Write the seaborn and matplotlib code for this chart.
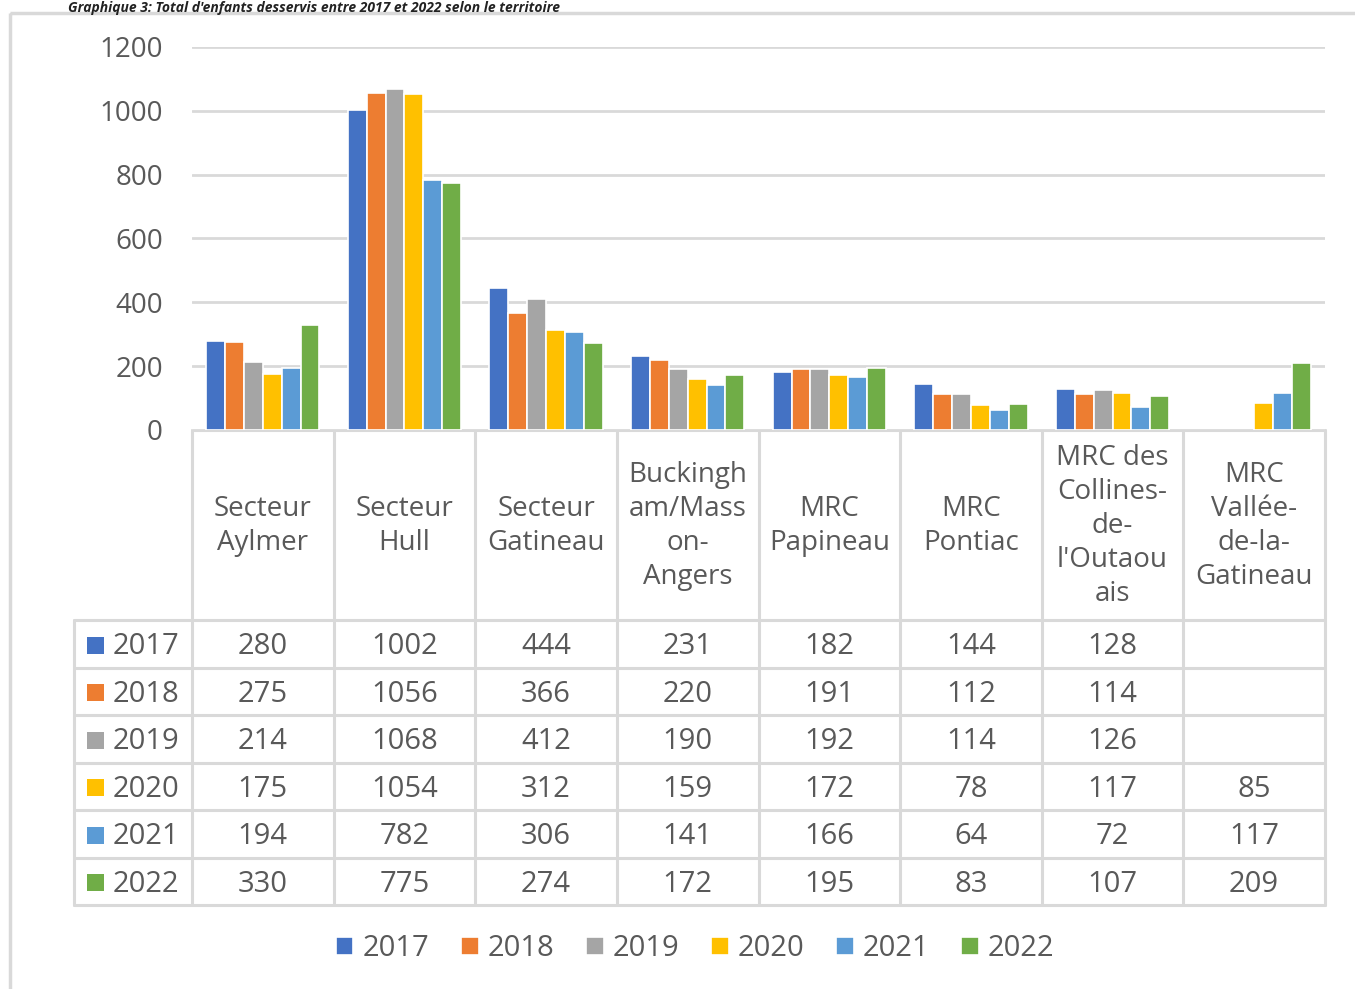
import numpy as np
import pandas as pd
import seaborn as sns
from matplotlib import pyplot as plt
from matplotlib.patches import Rectangle

# Data
territoires = ["Secteur\nAylmer", "Secteur\nHull", "Secteur\nGatineau",
               "Buckingh\nam/Mass\non-\nAngers", "MRC\nPapineau", "MRC\nPontiac",
               "MRC des\nCollines-\nde-\nl'Outaou\nais", "MRC\nVallée-\nde-la-\nGatineau"]
annees = ["2017", "2018", "2019", "2020", "2021", "2022"]
v2017 = [280, 1002, 444, 231, 182, 144, 128, np.nan]
v2018 = [275, 1056, 366, 220, 191, 112, 114, np.nan]
v2019 = [214, 1068, 412, 190, 192, 114, 126, np.nan]
v2020 = [175, 1054, 312, 159, 172, 78, 117, 85]
v2021 = [194, 782, 306, 141, 166, 64, 72, 117]
v2022 = [330, 775, 274, 172, 195, 83, 107, 209]
couleurs = ["#4472C4", "#ED7D31", "#A5A5A5", "#FFC000", "#5B9BD5", "#70AD47"]

series = [v2017, v2018, v2019, v2020, v2021, v2022]
rows = []
for an, vals in zip(annees, series):
    for t, v in zip(territoires, vals):
        rows.append({"territoire": t, "annee": an, "valeur": v})
df = pd.DataFrame(rows)

sns.set_theme(style="white")
plt.rcParams['font.family'] = ['Open Sans', 'DejaVu Sans']
txt_col = "#595959"
grid_col = "#d9d9d9"

W, H = 1355, 989
fig = plt.figure(figsize=(W / 100, H / 100), dpi=100)

# overlay in pixel coordinates for frame and data table
ov = fig.add_axes([0, 0, 1, 1])
ov.set_xlim(0, W)
ov.set_ylim(H, 0)
ov.axis("off")

# title (cut off in the source, kept small and visible here)
fig.text(0.05, 1 - 1 / H, "Graphique 3: Total d'enfants desservis entre 2017 et 2022 selon le territoire",
         fontsize=10, fontstyle="italic", fontweight="bold", color="#222222",
         ha="left", va="top")

# outer frame (clipped right/bottom)
ov.add_patch(Rectangle((10, 13), W + 20, H + 20, fill=False, ec=grid_col, lw=2.5))

x0, x1 = 192, 1325
y_top, y_zero = 47, 430
ax = fig.add_axes([x0 / W, 1 - y_zero / H, (x1 - x0) / W, (y_zero - y_top) / H])
sns.barplot(data=df, x="territoire", y="valeur", hue="annee", hue_order=annees,
            order=territoires, palette=couleurs, width=0.8, saturation=1,
            edgecolor="white", linewidth=1.2, ax=ax, legend=True)
ax.set_ylim(0, 1200)
ax.set_xlim(-0.5, len(territoires) - 0.5)
ax.set_yticks(range(0, 1201, 200))
ax.yaxis.grid(True, color=grid_col, lw=2)
ax.set_axisbelow(True)
ax.set_xticks([])
ax.set_xlabel("")
ax.set_ylabel("")
ax.tick_params(axis="y", length=0, pad=21, labelsize=20, labelcolor=txt_col)
for s in ax.spines.values():
    s.set_visible(False)
handles, labels = ax.get_legend_handles_labels()
ax.get_legend().remove()

# data table
ncol = len(territoires)
cw = (x1 - x0) / ncol
y_cat = 620
row_h = (905 - y_cat) / len(annees)
lab_x0 = 74
lw_t = 2.2
ov.plot([x0, x1], [y_zero, y_zero], color=grid_col, lw=lw_t)
for i in range(ncol + 1):
    ov.plot([x0 + i * cw] * 2, [y_zero, 905], color=grid_col, lw=lw_t)
ov.plot([lab_x0] * 2, [y_cat, 905], color=grid_col, lw=lw_t)
for j in range(len(annees) + 1):
    ov.plot([lab_x0, x1], [y_cat + j * row_h] * 2, color=grid_col, lw=lw_t)

for i, t in enumerate(territoires):
    ov.text(x0 + (i + 0.5) * cw, 526, t, ha="center", va="center",
            fontsize=20, color=txt_col, linespacing=1.28)

for j, (an, vals) in enumerate(zip(annees, series)):
    yc = y_cat + (j + 0.5) * row_h + 3
    ov.add_patch(Rectangle((87, yc - 10), 17, 17, color=couleurs[j], lw=0))
    ov.text(113, yc, an, ha="left", va="center", fontsize=21, color=txt_col)
    for i, v in enumerate(vals):
        if not np.isnan(v):
            ov.text(x0 + (i + 0.5) * cw, yc, f"{int(v)}", ha="center", va="center",
                    fontsize=21, color=txt_col)

fig.legend(handles, labels, loc="center", bbox_to_anchor=(695 / W, 1 - 949 / H),
           ncol=6, frameon=False, fontsize=21, labelcolor=txt_col,
           handlelength=0.6, handleheight=0.6, handletextpad=0.3, columnspacing=1.1)

fig.savefig("out.png", dpi=100)
